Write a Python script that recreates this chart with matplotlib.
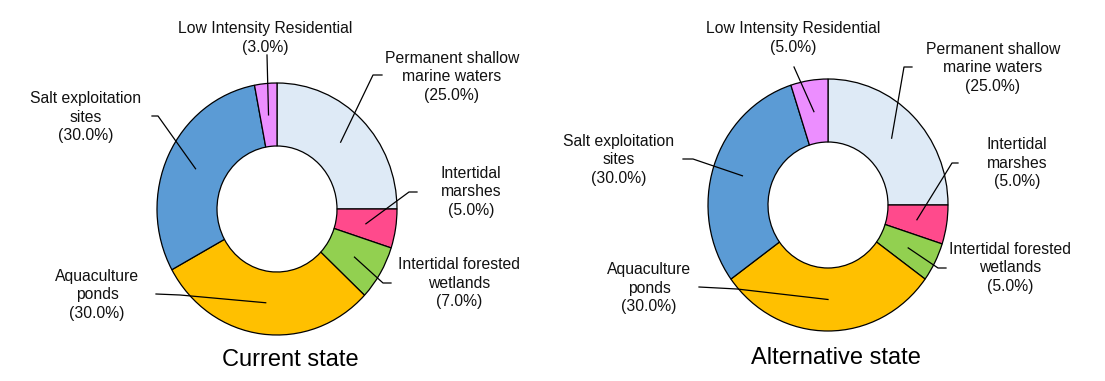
import matplotlib

matplotlib.use("Agg")
import matplotlib.pyplot as plt
import numpy as np

# data
categories = [
    "Permanent shallow\nmarine waters",
    "Intertidal\nmarshes",
    "Intertidal forested\nwetlands",
    "Aquaculture\nponds",
    "Salt exploitation\nsites",
    "Low Intensity Residential",
]
current_share = [25.0, 5.0, 7.0, 30.0, 30.0, 3.0]
alternative_share = [25.0, 5.0, 5.0, 30.0, 30.0, 5.0]
titles = ["Current state", "Alternative state"]
colors = ["#DEEAF6", "#FF4A8C", "#92D050", "#FFC000", "#5B9BD5", "#EC8EFF"]

# layout (figure pixels, from top-left): pie centre, label centre, leader elbow, leader end
W, H = 1105, 381
RX, RY = 120, 126  # pie radius in px (source image is slightly stretched)
layouts = [
    {
        "center": (277, 209),
        "title": (290, 360),
        "text": [(452, 77), (471, 192), (459, 283), (97, 295), (86, 117), (265, 38)],
        "elbow": [(373, 75), (409, 192), (383, 283), (180, 295), (158, 116), (267, 55)],
        "end": [(382, 75), (417, 192), (391, 283), (156, 294), (152, 116), (267, 55)],
    },
    {
        "center": (828, 205),
        "title": (836, 358),
        "text": [(993, 68), (1017, 163), (1010, 268), (649, 288), (619, 160), (793, 38)],
        "elbow": [(904, 67), (952, 163), (938, 268), (737, 289), (693, 159), (794, 67)],
        "end": [(912, 67), (958, 163), (946, 268), (699, 287), (683, 159), (794, 67)],
    },
]

plt.rcParams["font.family"] = ["Liberation Sans", "DejaVu Sans"]

fig = plt.figure(figsize=(W / 100, H / 100), dpi=100)
fig.patch.set_facecolor("white")


def to_data(pt, center):
    """Pixel position -> data units of a pie axes centred at `center`."""
    return (pt[0] - center[0]) / RX, (center[1] - pt[1]) / RY


for i, (shares, title, lay) in enumerate(zip([current_share, alternative_share], titles, layouts)):
    ax = fig.add_axes([0, 0, 1, 1], label=title)
    cx, cy = lay["center"]
    wedges, _ = ax.pie(
        shares,
        colors=colors,
        startangle=90,
        counterclock=False,
        radius=1.0,
        wedgeprops={"width": 0.5, "edgecolor": "black", "linewidth": 0.9},
    )
    ax.set_aspect("auto")
    ax.set_xlim(-cx / RX, (W - cx) / RX)
    ax.set_ylim(-(H - cy) / RY, cy / RY)
    ax.axis("off")

    for j, (w, name, v) in enumerate(zip(wedges, categories, shares)):
        mid = np.deg2rad((w.theta1 + w.theta2) / 2)
        anchor = (0.75 * np.cos(mid), 0.75 * np.sin(mid))
        ex, ey = to_data(lay["elbow"][j], (cx, cy))
        nx, ny = to_data(lay["end"][j], (cx, cy))
        ax.plot([anchor[0], ex, nx], [anchor[1], ey, ny], color="black", lw=0.9)
        tx, ty = to_data(lay["text"][j], (cx, cy))
        ax.text(tx, ty, f"{name}\n({v:.1f}%)", ha="center", va="center",
                fontsize=11.3, linespacing=1.33, color="#111111")

    tx, ty = to_data(lay["title"], (cx, cy))
    ax.text(tx, ty, title, ha="center", va="center", fontsize=17)

fig.savefig("out.png", dpi=100)
